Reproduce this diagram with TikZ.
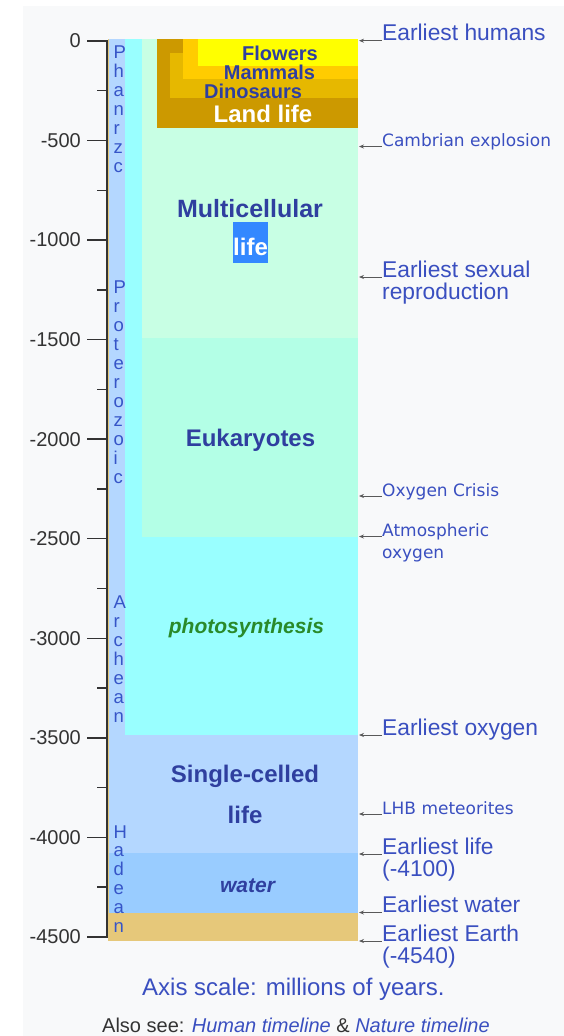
\documentclass[tikz,border=0pt]{standalone}
\usepackage{fontspec}
\setmainfont{Liberation Sans}
\newfontfamily\smallface{DejaVu Sans}
\usetikzlibrary{positioning,arrows.meta}
\definecolor{ltPage}{HTML}{F8F9FA}
\definecolor{ltEarth}{HTML}{E6C87A}
\definecolor{ltEon}{HTML}{B4D7FF}
\definecolor{ltCyan}{HTML}{99FFFF}
\definecolor{ltMulti}{HTML}{C8FFE4}
\definecolor{ltEuk}{HTML}{B3FFE6}
\definecolor{ltLand}{HTML}{CC9900}
\definecolor{ltDino}{HTML}{E6B800}
\definecolor{ltMamm}{HTML}{FFCC00}
\definecolor{ltFlow}{HTML}{FFFF00}
\definecolor{ltWater}{HTML}{99CCFF}
\definecolor{ltLife}{HTML}{3388FF}
\definecolor{ltInk}{HTML}{2F3F9F}
\definecolor{ltLink}{HTML}{3A4FC0}
\definecolor{ltEonInk}{HTML}{3655C8}
\definecolor{ltAxis}{HTML}{333333}
\definecolor{ltGreen}{HTML}{2A8A2A}
\tikzset{
  lt-block/.style={font=\fontsize{24}{24}\selectfont\bfseries, text=ltInk,
    inner sep=0pt, anchor=base},
  lt-band/.style={lt-block, font=\fontsize{20}{20}\selectfont\bfseries},
  lt-italic/.style={lt-block, font=\fontsize{21}{21}\selectfont\bfseries\itshape},
  lt-lifebox/.style={fill=ltLife, text=white, inner sep=0pt,
    font=\fontsize{24}{24}\selectfont\bfseries, minimum width=35pt,
    text height=33pt, text depth=8pt, anchor=base},
  lt-note/.style={font=\fontsize{22.8}{22}\selectfont, text=ltLink,
    inner sep=0pt, align=left},
  lt-note-s/.style={lt-note, font=\smallface\fontsize{17}{22}\selectfont},
  lt-two/.style={yshift=-22pt},
  lt-arrow/.style={{Stealth[length=5pt,width=4pt]}-, line width=0.8pt,
    draw=black!65},
  lt-tick/.style={line width=1.4pt, draw=ltAxis},
  lt-num/.style={font=\fontsize{20}{20}\selectfont, text=ltAxis,
    inner sep=0pt, anchor=east},
  lt-eon/.style={font=\fontsize{18.5}{18.5}\selectfont, text=ltEonInk,
    inner sep=0pt, anchor=base west},
  lt-caption/.style={font=\fontsize{24}{24}\selectfont, text=ltLink,
    inner sep=0pt, anchor=base west}
}
\begin{document}
\begin{tikzpicture}[x=1pt, y=-1pt]
\useasboundingbox (0,0) rectangle (564,1036);
\fill[ltPage] (23,6) rectangle (564,1036);

% Bars
\fill[ltEarth] (107.7,39) rectangle (358,941);
\fill[ltEon] (109,39) rectangle (358,913);
\fill[ltCyan] (125,39) rectangle (358,735);
\fill[ltMulti] (142,39) rectangle (358,338);
\fill[ltEuk] (142,338) rectangle (358,537);
\fill[ltLand] (157,39) rectangle (358,128);
\fill[ltDino] (170,53) rectangle (358,98);
\fill[ltMamm] (183,39) rectangle (358,79);
\fill[ltFlow] (198,39) rectangle (358,66);
\fill[ltWater] (109,853) rectangle (358,913);

% Axis
\draw[lt-tick] (107,40) -- (107,938);
\foreach \v in {0,500,...,4500}{
  \pgfmathsetmacro\yy{41+0.1991*\v}
  \draw[lt-tick] (87,\yy) -- (107,\yy);
  \node[lt-num] (num-\v) at (81,\yy) {\ifnum\v=0 0\else-\v\fi};
}
\foreach \v in {250,750,...,4250}{
  \pgfmathsetmacro\yy{41+0.1991*\v}
  \draw[lt-tick] (97,\yy) -- (107,\yy);
}

% Eons
\foreach \ch [count=\i from 0] in {P,h,a,n,r,z,c}
  \node[lt-eon] (phan-\i) at (113.5,58+19*\i) {\ch};
\foreach \ch [count=\i from 0] in {P,r,o,t,e,r,o,z,o,i,c}
  \node[lt-eon] (prot-\i) at (113.5,293+19*\i) {\ch};
\foreach \ch [count=\i from 0] in {A,r,c,h,e,a,n}
  \node[lt-eon] (arch-\i) at (113.5,608+19*\i) {\ch};
\foreach \ch [count=\i from 0] in {H,a,d,e,a,n}
  \node[lt-eon] (hade-\i) at (113.5,838+18.8*\i) {\ch};

% Block labels
\node[lt-band] (flowers) at (280,60) {Flowers};
\node[lt-band] (mammals) at (269.5,79) {Mammals};
\node[lt-band] (dinos) at (253,98) {Dinosaurs};
\node[lt-block, text=white] (land) at (263,122) {Land life};
\node[lt-block, font=\fontsize{25}{25}\selectfont\bfseries] (multi) at (250,217) {Multicellular};
\node[lt-lifebox] (multi-life) at (250.5,255) {life};
\node[lt-block] (euk) at (250.5,446) {Eukaryotes};
\node[lt-italic, text=ltGreen] (photo) at (246.5,633) {photosynthesis};
\node[lt-block] (single) at (245,782) {Single-celled};
\node[lt-block] (single-life) at (245,823) {life};
\node[lt-italic] (water) at (247.5,892) {water};

% Events
\coordinate (humans-pt) at (359,40.7);
\coordinate (cambrian-pt) at (359,146.5);
\coordinate (sexual-pt) at (359,277);
\coordinate (crisis-pt) at (359,496);
\coordinate (atmos-pt) at (359,536.5);
\coordinate (oxygen-pt) at (359,735);
\coordinate (lhb-pt) at (359,814);
\coordinate (life-pt) at (359,854);
\coordinate (wet-pt) at (359,912.5);
\coordinate (earth-pt) at (359,941);

\node[lt-note, right=23pt of humans-pt, anchor=base west] (humans) {Earliest humans};
\node[lt-note-s, right=23pt of cambrian-pt, anchor=base west] (cambrian) {Cambrian explosion};
\node[lt-note, lt-two, right=23pt of sexual-pt, anchor=base west] (sexual) {Earliest sexual\\reproduction};
\node[lt-note-s, right=23pt of crisis-pt, anchor=base west] (crisis) {Oxygen Crisis};
\node[lt-note-s, lt-two, right=23pt of atmos-pt, anchor=base west] (atmos) {Atmospheric\\oxygen};
\node[lt-note, right=23pt of oxygen-pt, anchor=base west] (oxygen) {Earliest oxygen};
\node[lt-note-s, right=23pt of lhb-pt, anchor=base west] (lhb) {LHB meteorites};
\node[lt-note, lt-two, right=23pt of life-pt, anchor=base west] (life) {Earliest life\\(-4100)};
\node[lt-note, right=23pt of wet-pt, anchor=base west] (wet) {Earliest water};
\node[lt-note, lt-two, right=23pt of earth-pt, anchor=base west] (earth) {Earliest Earth\\(-4540)};

\foreach \n in {humans,cambrian,sexual,crisis,atmos,oxygen,lhb,life,wet,earth}
  \draw[lt-arrow] (\n-pt) -- (\n.west |- \n-pt);

% Captions
\node[lt-caption] (scale) at (142,995) {Axis scale: millions of years.};
\node[lt-caption, font=\fontsize{20}{20}\selectfont, text=ltAxis] (seealso) at (102,1032)
  {Also see: \textcolor{ltLink}{\itshape Human timeline} \& \textcolor{ltLink}{\itshape Nature timeline}};
\end{tikzpicture}
\end{document}
